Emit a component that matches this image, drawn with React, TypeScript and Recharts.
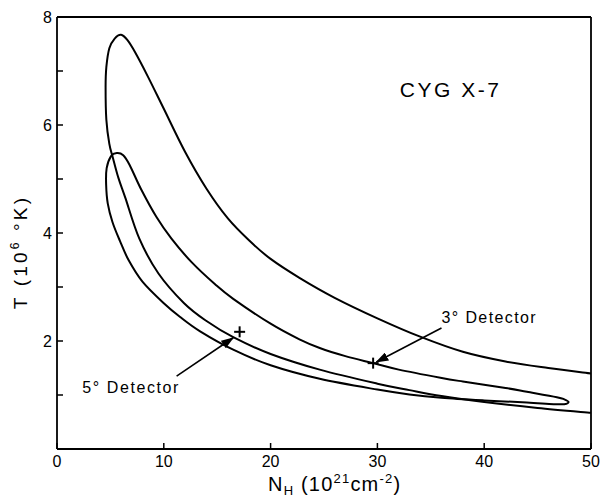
import React from 'react';
import {
  ComposedChart,
  Line,
  Scatter,
  XAxis,
  YAxis,
  ReferenceLine,
  ReferenceDot,
  Label,
} from 'recharts';

// ---- data (N_H in 1e21 cm^-2, T in 1e6 K) ----
const xTicks = [0, 10, 20, 30, 40, 50];
const yTicks = [0, 1, 2, 3, 4, 5, 6, 7, 8];
const yLabeled = [2, 4, 6, 8];

// 3° detector contour (open, leaves through the right edge twice)
const contour3 = [
  { x: 50, y: 1.4 },
  { x: 46, y: 1.5 },
  { x: 42, y: 1.62 },
  { x: 38, y: 1.8 },
  { x: 34, y: 2.08 },
  { x: 30, y: 2.42 },
  { x: 26, y: 2.8 },
  { x: 22.7, y: 3.17 },
  { x: 20, y: 3.52 },
  { x: 18, y: 3.86 },
  { x: 16, y: 4.27 },
  { x: 14, y: 4.82 },
  { x: 12, y: 5.5 },
  { x: 10, y: 6.3 },
  { x: 8.5, y: 6.9 },
  { x: 7.3, y: 7.35 },
  { x: 6.6, y: 7.57 },
  { x: 6.0, y: 7.67 },
  { x: 5.4, y: 7.6 },
  { x: 4.9, y: 7.42 },
  { x: 4.62, y: 7.07 },
  { x: 4.55, y: 6.7 },
  { x: 4.62, y: 6.1 },
  { x: 4.9, y: 5.65 },
  { x: 5.25, y: 5.38 },
  { x: 5.75, y: 5.02 },
  { x: 6.4, y: 4.65 },
  { x: 7.7, y: 3.9 },
  { x: 9.5, y: 3.25 },
  { x: 11.9, y: 2.7 },
  { x: 14, y: 2.37 },
  { x: 16.5, y: 2.07 },
  { x: 20, y: 1.76 },
  { x: 24.6, y: 1.47 },
  { x: 30, y: 1.21 },
  { x: 33, y: 1.09 },
  { x: 36, y: 0.98 },
  { x: 40, y: 0.87 },
  { x: 45, y: 0.76 },
  { x: 50, y: 0.67 },
];

// 5° detector contour (closed)
const contour5 = [
  { x: 4.6, y: 4.9 },
  { x: 4.75, y: 4.55 },
  { x: 5.2, y: 4.2 },
  { x: 5.9, y: 3.85 },
  { x: 6.7, y: 3.5 },
  { x: 8, y: 3.1 },
  { x: 10, y: 2.7 },
  { x: 11.5, y: 2.45 },
  { x: 13.4, y: 2.18 },
  { x: 16.5, y: 1.84 },
  { x: 20, y: 1.55 },
  { x: 24.6, y: 1.3 },
  { x: 30, y: 1.1 },
  { x: 33, y: 1.01 },
  { x: 36, y: 0.95 },
  { x: 40, y: 0.9 },
  { x: 44, y: 0.86 },
  { x: 46.5, y: 0.83 },
  { x: 47.5, y: 0.83 },
  { x: 47.9, y: 0.87 },
  { x: 47.5, y: 0.92 },
  { x: 46.8, y: 0.96 },
  { x: 44, y: 1.06 },
  { x: 42, y: 1.13 },
  { x: 38, y: 1.25 },
  { x: 35.9, y: 1.32 },
  { x: 32, y: 1.47 },
  { x: 29.6, y: 1.59 },
  { x: 27, y: 1.72 },
  { x: 24.6, y: 1.87 },
  { x: 22.7, y: 2.03 },
  { x: 20, y: 2.32 },
  { x: 16.5, y: 2.78 },
  { x: 14.8, y: 3.05 },
  { x: 12.6, y: 3.46 },
  { x: 10.7, y: 3.9 },
  { x: 9.3, y: 4.3 },
  { x: 7.9, y: 4.8 },
  { x: 6.8, y: 5.26 },
  { x: 6.2, y: 5.44 },
  { x: 5.6, y: 5.48 },
  { x: 5.05, y: 5.42 },
  { x: 4.65, y: 5.2 },
  { x: 4.6, y: 4.9 },
];

const bestFits = [
  { x: 17.1, y: 2.17 },
  { x: 29.6, y: 1.59 },
];

const arrow5 = [
  { x: 11.2, y: 1.35 },
  { x: 16.5, y: 2.06 },
];
const arrow3 = [
  { x: 36.0, y: 2.24 },
  { x: 29.9, y: 1.61 },
];

const titleText = 'CYG X-7';
const titlePos = { x: 32.1, y: 6.52 };
const label3 = '3° Detector';
const label3Pos = { x: 36.0, y: 2.33 };
const label5 = '5° Detector';
const label5Pos = { x: 2.36, y: 1.04 };

// ---- helpers ----
const FONT = '"Liberation Sans", Arial, sans-serif';

const makeCatmull = (closed: boolean) => (context: any) => {
  let pts: [number, number][] = [];
  return {
    areaStart() {},
    areaEnd() {},
    lineStart() {
      pts = [];
    },
    point(x: number, y: number) {
      pts.push([+x, +y]);
    },
    lineEnd() {
      const n = pts.length;
      if (!n) return;
      context.moveTo(pts[0][0], pts[0][1]);
      if (n === 1) return;
      for (let i = 0; i < n - 1; i++) {
        const p0 = i === 0 ? (closed ? pts[n - 2] : pts[0]) : pts[i - 1];
        const p1 = pts[i];
        const p2 = pts[i + 1];
        const p3 = i + 2 < n ? pts[i + 2] : closed ? pts[1] : pts[n - 1];
        context.bezierCurveTo(
          p1[0] + (p2[0] - p0[0]) / 6,
          p1[1] + (p2[1] - p0[1]) / 6,
          p2[0] - (p3[0] - p1[0]) / 6,
          p2[1] - (p3[1] - p1[1]) / 6,
          p2[0],
          p2[1]
        );
      }
    },
  };
};
const openCurve = makeCatmull(false);
const closedCurve = makeCatmull(true);

const PlusShape = (props: any) => {
  const { cx, cy } = props;
  if (cx == null || cy == null) return null;
  const s = 5.5;
  return (
    <g>
      <line x1={cx - s} y1={cy} x2={cx + s} y2={cy} stroke="#000" strokeWidth={2} />
      <line x1={cx} y1={cy - s} x2={cx} y2={cy + s} stroke="#000" strokeWidth={2} />
    </g>
  );
};

const AnnText = (text: string, size: number, spacing: number) => (props: any) => {
  const vb = props.viewBox || {};
  return (
    <text
      x={vb.x}
      y={vb.y}
      textAnchor="start"
      fontFamily={FONT}
      fontSize={size}
      letterSpacing={spacing}
      fill="#000"
    >
      {text}
    </text>
  );
};

const YLabel = () => (
  <g>
    <defs>
      <marker
        id="arrowHead"
        markerUnits="userSpaceOnUse"
        markerWidth={13}
        markerHeight={9}
        refX={12}
        refY={4.5}
        orient="auto"
      >
        <path d="M0,0 L13,4.5 L0,9 z" fill="#000" />
      </marker>
    </defs>
    <text
      transform="rotate(-90 27 252)"
      x={27}
      y={252}
      textAnchor="middle"
      fontFamily={FONT}
      fontSize={19}
      letterSpacing={3.2}
      fill="#000"
    >
      T (10<tspan dy={-8} fontSize={12}>6</tspan>
      <tspan dy={8}> °K)</tspan>
    </text>
  </g>
);

const XLabel = () => (
  <text
    x={268}
    y={491}
    textAnchor="start"
    fontFamily={FONT}
    fontSize={20}
    letterSpacing={1.2}
    fill="#000"
  >
    N<tspan dy={4} fontSize={13}>H</tspan>
    <tspan dy={-4}> (10</tspan>
    <tspan dy={-8} fontSize={13}>21</tspan>
    <tspan dy={8}>cm</tspan>
    <tspan dy={-8} fontSize={13}>-2</tspan>
    <tspan dy={8}>)</tspan>
  </text>
);

export default function App() {
  return (
    <div style={{ position: 'absolute', left: 0, top: 0, width: 604, height: 499, background: '#fff' }}>
      <ComposedChart
        width={604}
        height={499}
        margin={{ top: 17, right: 13, bottom: 0, left: 0 }}
      >
        <XAxis
          dataKey="x"
          type="number"
          domain={[0, 50]}
          ticks={xTicks}
          allowDataOverflow
          height={50}
          tickSize={-6}
          tickMargin={13}
          axisLine={{ stroke: '#000', strokeWidth: 1.8 }}
          tickLine={{ stroke: '#000', strokeWidth: 1.5 }}
          tick={{ fill: '#000', fontSize: 16, fontFamily: FONT }}
          label={<Label content={<XLabel />} />}
        />
        <YAxis
          dataKey="y"
          type="number"
          domain={[0, 8]}
          ticks={yTicks}
          allowDataOverflow
          width={57}
          tickSize={-6}
          tickMargin={11}
          tickFormatter={(v: number) => (yLabeled.includes(v) ? String(v) : '')}
          axisLine={{ stroke: '#000', strokeWidth: 1.8 }}
          tickLine={{ stroke: '#000', strokeWidth: 1.5 }}
          tick={{ fill: '#000', fontSize: 16, fontFamily: FONT }}
          label={<Label content={<YLabel />} />}
        />
        <ReferenceLine y={8} stroke="#000" strokeWidth={1.8} />
        <ReferenceLine x={50} stroke="#000" strokeWidth={1.8} />

        <Line
          data={contour3}
          dataKey="y"
          type={openCurve as any}
          stroke="#000"
          strokeWidth={2}
          dot={false}
          activeDot={false}
          isAnimationActive={false}
        />
        <Line
          data={contour5}
          dataKey="y"
          type={closedCurve as any}
          stroke="#000"
          strokeWidth={2}
          dot={false}
          activeDot={false}
          isAnimationActive={false}
        />
        <Scatter data={bestFits} dataKey="y" shape={PlusShape} isAnimationActive={false} />

        <ReferenceLine
          segment={arrow5}
          stroke="#000"
          strokeWidth={1.6}
          markerEnd="url(#arrowHead)"
        />
        <ReferenceLine
          segment={arrow3}
          stroke="#000"
          strokeWidth={1.6}
          markerEnd="url(#arrowHead)"
        />

        <ReferenceDot
          x={titlePos.x}
          y={titlePos.y}
          r={0}
          stroke="none"
          fill="none"
          label={<Label content={AnnText(titleText, 21, 2.5)} />}
        />
        <ReferenceDot
          x={label3Pos.x}
          y={label3Pos.y}
          r={0}
          stroke="none"
          fill="none"
          label={<Label content={AnnText(label3, 16, 1.4)} />}
        />
        <ReferenceDot
          x={label5Pos.x}
          y={label5Pos.y}
          r={0}
          stroke="none"
          fill="none"
          label={<Label content={AnnText(label5, 16, 1.6)} />}
        />
      </ComposedChart>
    </div>
  );
}
